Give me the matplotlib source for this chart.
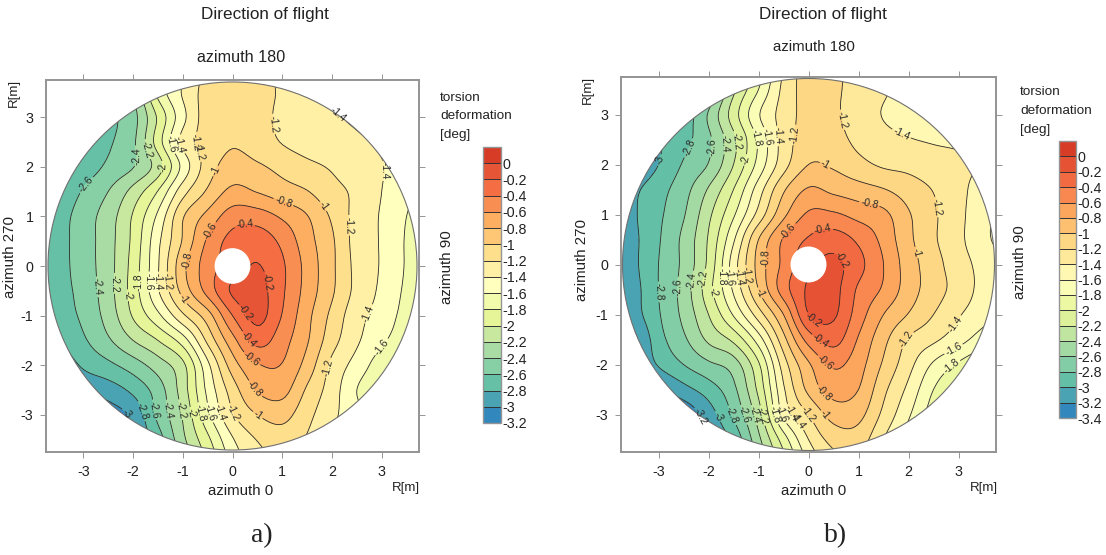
#!/usr/bin/env python3

"""
Torsion deformation maps over the rotor disc, panels a) and b).
Values are read off the reference on a 0.5 m grid.
"""

import numpy as np
import matplotlib
matplotlib.use("Agg")
import matplotlib.pyplot as plt
from matplotlib.colors import LinearSegmentedColormap, ListedColormap
from matplotlib.patches import Circle

plt.rcParams['font.family'] = ['Liberation Sans', 'DejaVu Sans']
plt.rcParams['axes.unicode_minus'] = False

GRID_X = [-4, -3.5, -3, -2.5, -2, -1.5, -1, -0.5, 0, 0.5, 1, 1.5, 2, 2.5, 3, 3.5, 4]
GRID_Y = [4, 3.5, 3, 2.5, 2, 1.5, 1, 0.5, 0, -0.5, -1, -1.5, -2, -2.5, -3, -3.5, -4]
TICKS = [-3, -2, -1, 0, 1, 2, 3]

# rows run from y=4 down to y=-4
torsion_a = [
    [-2.95, -2.85, -2.75, -2.60, -2.30, -1.75, -1.45, -1.14, -0.97, -1.12, -1.25, -1.36, -1.48, -1.50, -1.52, -1.55, -1.60],
    [-2.95, -2.85, -2.75, -2.62, -2.40, -1.75, -1.38, -1.12, -1.05, -1.12, -1.23, -1.33, -1.44, -1.47, -1.50, -1.53, -1.58],
    [-2.95, -2.85, -2.75, -2.65, -2.47, -1.97, -1.46, -1.10, -1.05, -1.13, -1.24, -1.31, -1.38, -1.43, -1.48, -1.55, -1.60],
    [-2.95, -2.87, -2.78, -2.63, -2.44, -1.90, -1.34, -1.12, -1.02, -1.10, -1.21, -1.28, -1.32, -1.37, -1.43, -1.50, -1.55],
    [-2.95, -2.85, -2.72, -2.56, -2.41, -2.10, -1.54, -1.10, -0.92, -0.97, -1.06, -1.15, -1.22, -1.30, -1.39, -1.50, -1.60],
    [-2.95, -2.78, -2.58, -2.40, -2.13, -1.79, -1.28, -0.97, -0.75, -0.81, -0.91, -0.99, -1.14, -1.24, -1.40, -1.55, -1.70],
    [-2.90, -2.70, -2.50, -2.30, -1.98, -1.56, -1.02, -0.74, -0.50, -0.50, -0.63, -0.79, -1.03, -1.27, -1.42, -1.60, -1.75],
    [-2.88, -2.68, -2.50, -2.28, -1.95, -1.45, -0.98, -0.57, -0.33, -0.28, -0.45, -0.72, -0.97, -1.28, -1.42, -1.62, -1.80],
    [-2.85, -2.68, -2.50, -2.28, -1.92, -1.42, -0.86, -0.50, -0.30, -0.19, -0.37, -0.67, -0.96, -1.26, -1.42, -1.62, -1.80],
    [-2.85, -2.68, -2.53, -2.28, -1.91, -1.42, -0.93, -0.53, -0.17, -0.12, -0.37, -0.68, -0.97, -1.26, -1.44, -1.64, -1.80],
    [-2.85, -2.70, -2.56, -2.32, -1.98, -1.65, -1.24, -0.89, -0.40, -0.14, -0.41, -0.74, -1.05, -1.33, -1.48, -1.68, -1.85],
    [-2.95, -2.80, -2.63, -2.43, -2.20, -2.00, -1.70, -1.15, -0.67, -0.33, -0.52, -0.78, -1.12, -1.37, -1.56, -1.75, -1.90],
    [-3.05, -2.95, -2.77, -2.65, -2.50, -2.30, -2.05, -1.45, -0.90, -0.62, -0.61, -0.88, -1.25, -1.48, -1.72, -1.95, -2.05],
    [-3.15, -3.05, -2.97, -2.90, -2.75, -2.50, -2.10, -1.55, -1.10, -0.78, -0.73, -1.03, -1.30, -1.60, -1.80, -2.00, -2.10],
    [-3.40, -3.30, -3.20, -3.10, -2.95, -2.55, -2.18, -1.65, -1.22, -1.00, -0.93, -1.14, -1.35, -1.55, -1.80, -2.00, -2.10],
    [-3.40, -3.30, -3.25, -3.15, -3.00, -2.70, -2.25, -1.85, -1.42, -1.19, -1.10, -1.22, -1.40, -1.60, -1.80, -2.00, -2.10],
    [-3.40, -3.30, -3.30, -3.20, -3.05, -2.85, -2.40, -2.00, -1.55, -1.30, -1.20, -1.30, -1.45, -1.60, -1.80, -2.00, -2.10],
]

torsion_b = [
    [-3.40, -3.30, -3.20, -3.10, -2.90, -2.45, -1.95, -1.40, -1.10, -1.15, -1.28, -1.40, -1.50, -1.55, -1.60, -1.65, -1.70],
    [-3.40, -3.30, -3.20, -3.10, -2.80, -2.25, -1.80, -1.35, -1.12, -1.17, -1.27, -1.38, -1.47, -1.52, -1.58, -1.62, -1.68],
    [-3.40, -3.30, -3.20, -2.95, -2.58, -2.10, -1.62, -1.32, -1.13, -1.17, -1.29, -1.41, -1.47, -1.52, -1.55, -1.60, -1.65],
    [-3.40, -3.25, -3.05, -2.87, -2.64, -2.25, -1.77, -1.32, -1.10, -1.13, -1.25, -1.34, -1.39, -1.42, -1.44, -1.48, -1.52],
    [-3.35, -3.20, -3.00, -2.78, -2.59, -2.20, -1.73, -1.28, -1.00, -1.03, -1.14, -1.23, -1.26, -1.32, -1.36, -1.42, -1.50],
    [-3.25, -3.05, -2.88, -2.68, -2.38, -2.00, -1.50, -1.03, -0.78, -0.85, -0.92, -0.99, -1.10, -1.21, -1.34, -1.50, -1.60],
    [-3.25, -3.03, -2.84, -2.62, -2.25, -1.83, -1.33, -0.85, -0.57, -0.57, -0.67, -0.75, -0.98, -1.17, -1.34, -1.55, -1.65],
    [-3.28, -3.05, -2.82, -2.55, -2.18, -1.63, -1.00, -0.58, -0.38, -0.30, -0.44, -0.66, -0.95, -1.17, -1.35, -1.55, -1.70],
    [-3.30, -3.05, -2.80, -2.55, -2.15, -1.50, -0.93, -0.55, -0.25, -0.15, -0.34, -0.60, -0.90, -1.12, -1.31, -1.47, -1.60],
    [-3.30, -3.08, -2.80, -2.52, -2.08, -1.57, -1.00, -0.50, -0.17, -0.14, -0.43, -0.63, -0.90, -1.11, -1.28, -1.47, -1.60],
    [-3.35, -3.10, -2.82, -2.55, -2.20, -1.78, -1.30, -0.80, -0.20, -0.17, -0.50, -0.80, -1.01, -1.20, -1.38, -1.53, -1.65],
    [-3.40, -3.25, -2.88, -2.64, -2.36, -2.15, -1.70, -1.07, -0.52, -0.33, -0.62, -0.94, -1.22, -1.36, -1.52, -1.70, -1.80],
    [-3.40, -3.25, -2.98, -2.80, -2.64, -2.50, -2.03, -1.30, -0.83, -0.57, -0.72, -1.03, -1.33, -1.63, -1.83, -2.00, -2.10],
    [-3.50, -3.40, -3.25, -3.07, -2.90, -2.65, -2.15, -1.43, -0.95, -0.72, -0.80, -1.15, -1.45, -1.80, -2.00, -2.10, -2.20],
    [-3.60, -3.50, -3.45, -3.35, -3.10, -2.77, -2.30, -1.55, -1.20, -0.92, -0.94, -1.25, -1.57, -1.90, -2.05, -2.15, -2.20],
    [-3.60, -3.50, -3.50, -3.40, -3.20, -2.95, -2.45, -1.90, -1.40, -1.13, -1.10, -1.40, -1.70, -2.00, -2.10, -2.20, -2.20],
    [-3.60, -3.50, -3.50, -3.45, -3.30, -3.10, -2.60, -2.10, -1.60, -1.30, -1.25, -1.50, -1.80, -2.00, -2.10, -2.20, -2.20],
]

levels_a = [-3.2, -3.0, -2.8, -2.6, -2.4, -2.2, -2.0, -1.8, -1.6, -1.4, -1.2, -1.0, -0.8, -0.6, -0.4, -0.2, 0.0, 0.2]
levels_b = [-3.4] + levels_a
band_colors = ['#d73c27', '#f46d43', '#fdae61', '#fee08b', '#ffffbf', '#e6f598', '#abdda4', '#66c2a5', '#3288bd']

# where the contour labels sit, in metres
labels_a = [
    (-2.96, 1.65), (-1.57, -2.9), (-1.99, 2.22), (-2.72, -0.42), (-1.28, -2.9), (-1.67, 2.37), (-2.37, -0.35),
    (-1.05, -2.9), (-1.38, 2.0), (-2.09, -0.59), (-0.85, -2.96), (-1.26, 2.45), (-1.89, -0.32), (-0.67, -2.96),
    (-1.06, 2.45), (-1.69, -0.32), (-0.46, -2.96), (-0.86, 2.49), (-1.5, -0.32), (-0.25, -2.96), (2.09, 3.02),
    (3.06, 1.92), (2.86, -1.02), (-0.6, 2.5), (-1.3, -0.32), (0.02, -2.96), (0.81, 2.86), (2.31, 0.82),
    (1.96, -2.06), (-0.35, 1.92), (-1.02, -0.69), (1.79, 1.18), (0.49, -3.03), (-0.93, 0.11), (1.01, 1.25),
    (0.47, -2.46), (-0.43, 0.7), (0.34, -1.94), (0.25, 0.76), (0.27, -1.53), (0.67, -0.32), (0.17, -1.0),
    (3.0, -1.63), (-1.84, -2.93), (-2.17, -3.0),
]
labels_b = [
    (-3.02, 2.1), (-2.33, 2.3), (-3.02, -0.55), (-1.51, -3.01), (-1.93, 2.35), (-2.6, -0.45), (-1.3, -3.01),
    (-1.63, 2.41), (-2.31, -0.33), (-1.08, -3.01), (-1.4, 2.47), (-2.09, -0.29), (-0.87, -3.01), (-1.17, 2.07),
    (-1.9, -0.55), (-0.7, -3.01), (-1.05, 2.52), (-1.71, -0.25), (-0.57, -3.01), (-0.83, 2.55), (-1.55, -0.25),
    (-0.4, -3.01), (-0.62, 2.57), (-1.37, -0.25), (-0.23, -3.01), (1.83, 2.55), (2.97, -1.21), (-0.27, 2.59),
    (-1.2, -0.21), (-0.03, -3.01), (0.65, 2.89), (2.57, 1.15), (1.93, -1.48), (0.33, 1.99), (-1, -0.58),
    (2.08, 0.22), (0.27, -3.05), (-0.83, 0.12), (1.2, 1.12), (0.33, -2.55), (-0.38, 0.65), (0.25, -2.05),
    (0.28, 0.72), (0.19, -1.58), (0.6, 0.05), (0.13, -1.08), (2.93, -1.75), (2.95, -2.15), (-1.75, -3.01),
    (-2.11, -3.01),
]

W, H = 1106, 555
EDGE = '#949494'


# Catmull-Rom along one axis, so the contours come out round and not faceted
def refine(z, factor, axis):
    z = np.moveaxis(z, axis, 0)
    padded = np.concatenate([2 * z[:1] - z[1:2], z, 2 * z[-1:] - z[-2:-1]])
    n = z.shape[0] - 1
    pos = np.linspace(0, n, n * factor + 1)
    i = np.minimum(pos.astype(int), n - 1)
    t = (pos - i).reshape((-1,) + (1,) * (z.ndim - 1))
    p0, p1, p2, p3 = padded[i], padded[i + 1], padded[i + 2], padded[i + 3]
    out = 0.5 * (2 * p1 + (p2 - p0) * t + (2 * p0 - 5 * p1 + 4 * p2 - p3) * t ** 2
                 + (3 * p1 - p0 - 3 * p2 + p3) * t ** 3)
    return np.moveaxis(out, 0, axis)


def pixel_axes(fig, left, top, right, bottom):
    return fig.add_axes([left / W, 1 - bottom / H, (right - left) / W, (bottom - top) / H])


def px_text(fig, x, y, s, **kw):
    kw.setdefault('ha', 'center')
    kw.setdefault('va', 'center')
    kw.setdefault('fontsize', 10.3)
    kw.setdefault('color', '#222222')
    fig.text(x / W, 1 - y / H, s, **kw)


def draw_panel(fig, box, cbar_box, values, levels, label_spots, radius):
    ax = pixel_axes(fig, *box)
    factor = 8
    z = refine(refine(np.array(values, dtype=float)[::-1], factor, 0), factor, 1)
    x = refine(np.array(GRID_X, dtype=float), factor, 0)
    y = refine(np.array(GRID_Y[::-1], dtype=float), factor, 0)

    n_bands = len(levels) - 1
    base = LinearSegmentedColormap.from_list('torsion', band_colors)
    cmap = ListedColormap([base(1 - k / (n_bands - 1)) for k in range(n_bands)])

    disc = Circle((0, 0), radius, transform=ax.transData, facecolor='none', edgecolor='#707070', linewidth=0.8, zorder=4)
    ax.add_patch(disc)
    cf = ax.contourf(x, y, z, levels=levels, cmap=cmap)
    cf.set_clip_path(disc)
    cs = ax.contour(x, y, z, levels=levels[:-1], colors='#2a2a2a', linewidths=0.6, linestyles='solid')
    cs.set_clip_path(disc)
    ax.clabel(cs, levels[:-1], fmt='%g', fontsize=7.4, inline=True, inline_spacing=1, manual=label_spots)
    ax.add_patch(Circle((0, 0), 0.36, facecolor='white', edgecolor='none', zorder=5))

    ax.set_xlim(-3.75, 3.75)
    ax.set_ylim(-3.75, 3.75)
    ax.set_xticks(TICKS)
    ax.set_yticks(TICKS)
    ax.set_xticklabels([str(t) for t in TICKS])
    ax.set_yticklabels([str(t) for t in TICKS])
    ax.tick_params(top=True, right=True, length=4, width=0.7, color=EDGE, labelsize=10.3, labelcolor='#222222', pad=5)
    for spine in ax.spines.values():
        spine.set_color(EDGE)
        spine.set_linewidth(1.4)

    cax = pixel_axes(fig, *cbar_box)
    cbar = fig.colorbar(cf, cax=cax, ticks=levels[:-1], spacing='proportional', drawedges=True)
    cbar.ax.set_yticklabels(['%g' % lev for lev in levels[:-1]])
    cbar.ax.tick_params(length=0, labelsize=10.3, labelcolor='#222222', pad=1)
    cbar.dividers.set_color('#333333')
    cbar.dividers.set_linewidth(0.7)
    cbar.outline.set_edgecolor(EDGE)
    cbar.outline.set_linewidth(1.0)


def main():
    fig = plt.figure(figsize=(W / 100, H / 100), dpi=100)

    draw_panel(fig, (46, 80, 419, 452), (483, 147, 501, 423), torsion_a, levels_a, labels_a, 3.71)
    draw_panel(fig, (621, 77, 996, 452), (1059, 141, 1076, 418), torsion_b, levels_b, labels_b, 3.72)

    px_text(fig, 265, 15, 'Direction of flight', fontsize=12.3)
    px_text(fig, 241, 57, 'azimuth 180', fontsize=11.6)
    px_text(fig, 241, 491, 'azimuth 0', fontsize=10.8)
    px_text(fig, 406, 488, 'R[m]', fontsize=9.5)
    px_text(fig, 14, 93, 'R[m]', fontsize=9.5, rotation=90)
    px_text(fig, 10, 257, 'azimuth 270', fontsize=10.8, rotation=90)
    px_text(fig, 447, 267, 'azimuth 90', fontsize=10.8, rotation=90)
    for yy, s in zip((98, 116, 135), ('torsion', 'deformation', '[deg]')):
        px_text(fig, 440, yy, s, ha='left', fontsize=9.7)

    px_text(fig, 823, 15, 'Direction of flight', fontsize=12.3)
    px_text(fig, 814, 47, 'azimuth 180', fontsize=10.8)
    px_text(fig, 814, 491, 'azimuth 0', fontsize=10.8)
    px_text(fig, 984, 488, 'R[m]', fontsize=9.5)
    px_text(fig, 588, 90, 'R[m]', fontsize=9.5, rotation=90)
    px_text(fig, 582, 260, 'azimuth 270', fontsize=10.8, rotation=90)
    px_text(fig, 1020, 262, 'azimuth 90', fontsize=10.8, rotation=90)
    for yy, s in zip((92, 111, 130), ('torsion', 'deformation', '[deg]')):
        px_text(fig, 1020, yy, s, ha='left', fontsize=9.7)

    px_text(fig, 262, 536, 'a)', family=['Liberation Serif', 'DejaVu Serif'], fontsize=20)
    px_text(fig, 836, 536, 'b)', family=['Liberation Serif', 'DejaVu Serif'], fontsize=20)

    fig.savefig('out.png', dpi=100)


if __name__ == "__main__":
    main()
